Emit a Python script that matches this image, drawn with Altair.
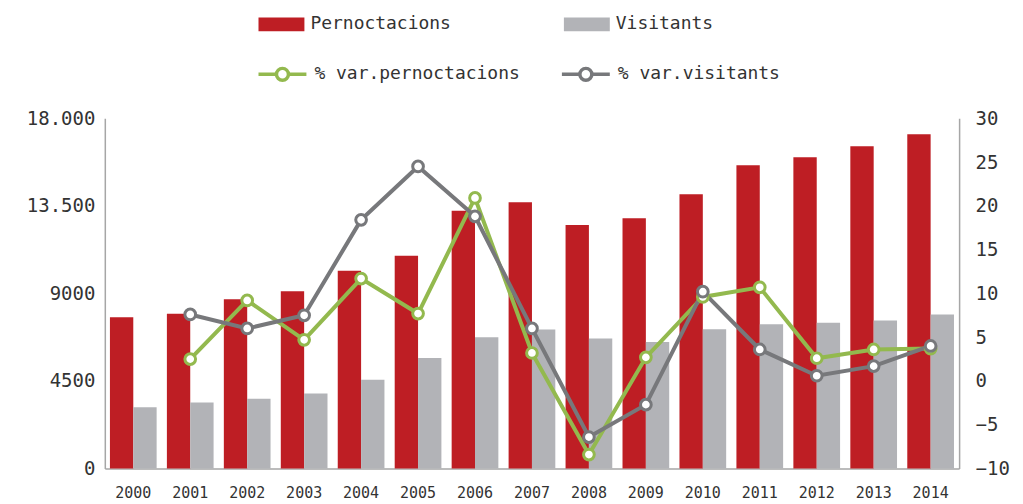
import altair as alt
import pandas as pd

years = [str(y) for y in range(2000, 2015)]
pernoctacions = [7780, 7950, 8700, 9110, 10170, 10940, 13250, 13680, 12510,
                 12860, 14090, 15590, 16000, 16560, 17180]
visitants = [3150, 3390, 3590, 3860, 4560, 5680, 6750, 7150, 6680,
             6510, 7160, 7420, 7490, 7610, 7920]
var_pern = [None, 2.5, 9.2, 4.7, 11.7, 7.7, 20.9, 3.2, -8.4, 2.7, 9.6, 10.7, 2.6, 3.6, 3.7]
var_vis = [None, 7.6, 6.0, 7.5, 18.4, 24.5, 18.8, 6.0, -6.4, -2.7, 10.2, 3.6, 0.6, 1.7, 4.0]

bar_series = ["Pernoctacions", "Visitants"]
line_series = ["% var.pernoctacions", "% var.visitants"]

bar_rows = []
for y, p, v in zip(years, pernoctacions, visitants):
    bar_rows.append({"year": y, "series": bar_series[0], "value": p})
    bar_rows.append({"year": y, "series": bar_series[1], "value": v})
bar_df = pd.DataFrame(bar_rows)

line_rows = []
for y, a, b in zip(years, var_pern, var_vis):
    if a is not None:
        line_rows.append({"year": y, "series": line_series[0], "value": a})
    if b is not None:
        line_rows.append({"year": y, "series": line_series[1], "value": b})
line_df = pd.DataFrame(line_rows)

MONO = "DejaVu Sans Mono"
xscale = alt.Scale(type="band", domain=years, paddingInner=0.18, paddingOuter=0.09)
xaxis = alt.Axis(title=None, labelAngle=0, labelPadding=17, labelFontSize=15,
                 ticks=False, domainColor="#A6A6A6", domainWidth=1.5)

bars = alt.Chart(bar_df).mark_bar().encode(
    x=alt.X("year:N", scale=xscale, axis=xaxis),
    xOffset=alt.XOffset("series:N", sort=bar_series),
    y=alt.Y("value:Q", scale=alt.Scale(domain=[0, 18000], nice=False),
            axis=alt.Axis(title=None, values=[0, 4500, 9000, 13500, 18000],
                          labelExpr="datum.value >= 10000 ? replace(format(datum.value, ','), ',', '.') : format(datum.value, 'd')",
                          labelFontSize=19, labelPadding=10, ticks=False,
                          domainColor="#A6A6A6", domainWidth=1.5, grid=False)),
    fill=alt.Color("series:N", sort=bar_series,
                   scale=alt.Scale(domain=bar_series, range=["#BE1E24", "#B2B3B7"]),
                   legend=alt.Legend(title=None, orient="none", legendX=154, legendY=-117,
                                     direction="horizontal", columns=2, columnPadding=113,
                                     symbolType="M-1,-0.3H1V0.3H-1Z", symbolSize=2116,
                                     symbolStrokeWidth=0, labelOffset=6, labelLimit=400)),
)

yr = alt.Y("value:Q", scale=alt.Scale(domain=[-10, 30], nice=False),
           axis=alt.Axis(title=None, orient="right", values=list(range(-10, 31, 5)),
                         format="d", labelFontSize=19, labelPadding=16, ticks=False,
                         domainColor="#A6A6A6", domainWidth=1.5, grid=False))
stroke_scale = alt.Scale(domain=line_series, range=["#93B94E", "#77787B"])

lines = alt.Chart(line_df).mark_line(strokeWidth=4).encode(
    x=alt.X("year:N", scale=xscale, axis=xaxis),
    y=yr,
    stroke=alt.Color("series:N", sort=line_series, scale=stroke_scale,
                     legend=alt.Legend(title=None, orient="none", legendX=152, legendY=-70,
                                       direction="horizontal", columns=2, columnPadding=35,
                                       symbolType="M-1,0H-0.25M0.25,0H1M0.25,0A0.25,0.25,0,1,1,-0.25,0A0.25,0.25,0,1,1,0.25,0",
                                       symbolSize=2304, symbolStrokeWidth=3.5,
                                       symbolFillColor="white", labelOffset=6, labelLimit=400)),
    detail="series:N",
)

points = alt.Chart(line_df).mark_point(filled=False, fill="white", fillOpacity=1,
                                       size=115, strokeWidth=3, opacity=1).encode(
    x=alt.X("year:N", scale=xscale, axis=xaxis),
    y=yr,
    stroke=alt.Color("series:N", sort=line_series, scale=stroke_scale, legend=None),
    order=alt.Order("series:N"),
)

right = alt.layer(lines, points)

chart = alt.layer(bars, right).resolve_scale(y="independent").properties(
    width=856, height=351,
    autosize=alt.AutoSizeParams(type="none"),
    padding={"left": 97, "top": 110, "right": 56, "bottom": 34},
).configure_view(stroke=None).configure_axis(
    labelFont=MONO, labelColor="#333333",
).configure_legend(
    labelFont=MONO, labelFontSize=18, labelColor="#333333",
)

chart.save("out.html", embed_options={"renderer": "svg", "actions": False})
